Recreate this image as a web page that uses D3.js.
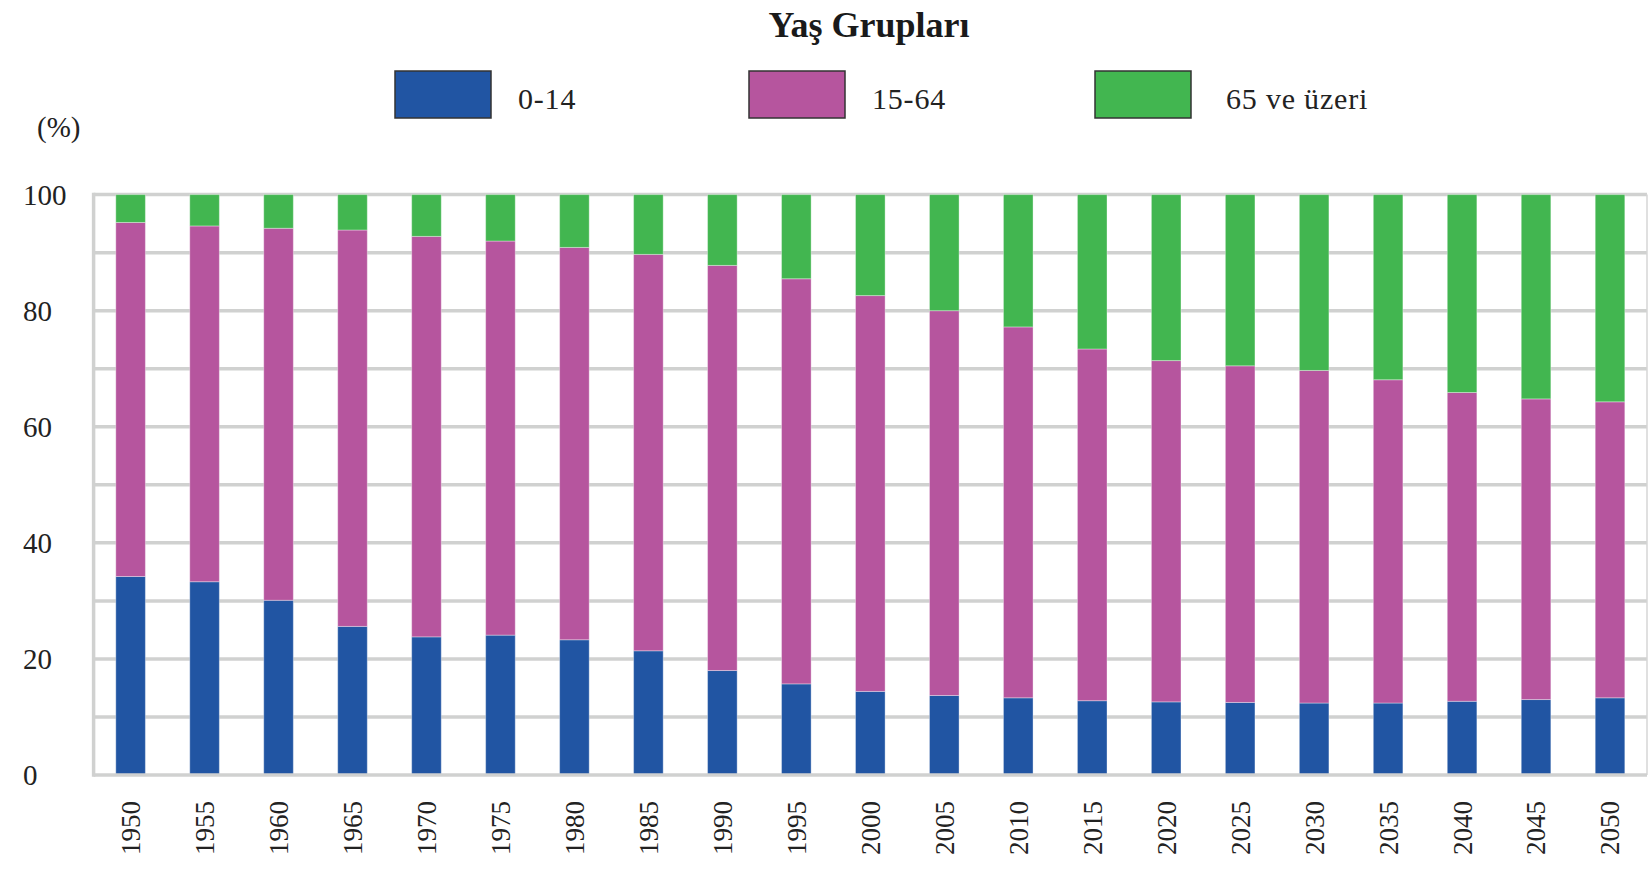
<!DOCTYPE html>
<html lang="tr">
<head>
<meta charset="utf-8">
<title>Yaş Grupları</title>
<script src="https://cdn.jsdelivr.net/npm/d3@7/dist/d3.min.js"></script>
<style>
    html, body { margin: 0; padding: 0; background: #fff; }
    svg { display: block; font-family: 'Liberation Serif', 'DejaVu Serif', serif; }
    .grid line { stroke: #d0d1d0; stroke-width: 3.5; }
    .tick-label { font-size: 29px; fill: #222; }
    .year-label { font-size: 27px; fill: #222; }
    .legend-label { font-size: 30px; fill: #222; letter-spacing: 0.8px; }
</style>
</head>
<body>
<div id="render-here"></div>
<script>
// values, % of population
const years = [1950, 1955, 1960, 1965, 1970, 1975, 1980, 1985, 1990, 1995, 2000,
               2005, 2010, 2015, 2020, 2025, 2030, 2035, 2040, 2045, 2050];
const ages0to14 = [34.2, 33.3, 30.1, 25.6, 23.8, 24.1, 23.3, 21.4, 18.0, 15.7, 14.4,
                   13.7, 13.3, 12.8, 12.6, 12.5, 12.4, 12.4, 12.7, 13.0, 13.3];
const ages15to64 = [61.0, 61.3, 64.1, 68.3, 69.0, 67.9, 67.6, 68.3, 69.8, 69.8, 68.2,
                    66.3, 63.9, 60.6, 58.8, 58.0, 57.3, 55.7, 53.2, 51.8, 51.0];
const ages65plus = [4.8, 5.4, 5.8, 6.1, 7.2, 8.0, 9.1, 10.3, 12.2, 14.5, 17.4,
                    20.0, 22.8, 26.6, 28.6, 29.5, 30.3, 31.9, 34.1, 35.2, 35.7];
const groupKeys = ['0-14', '15-64', '65 ve üzeri'];
const groupColors = ['#2155a3', '#b6559e', '#42b650'];
const yTicks = [0, 20, 40, 60, 80, 100];
const gridValues = [10, 20, 30, 40, 50, 60, 70, 80, 90, 100];

const W = 1649, H = 875;
const margin = { top: 194.6, right: 2, bottom: 100, left: 93.6 };

const rows = years.map((year, i) => ({
    year: year,
    '0-14': ages0to14[i],
    '15-64': ages15to64[i],
    '65 ve üzeri': ages65plus[i]
}));

const series = d3.stack().keys(groupKeys)(rows);

const xScale = d3.scaleBand()
    .domain(years)
    .range([margin.left, W - margin.right])
    .paddingInner(0.6)
    .paddingOuter(0.3);
const yScale = d3.scaleLinear()
    .domain([0, 100])
    .range([H - margin.bottom, margin.top]);
const color = d3.scaleOrdinal().domain(groupKeys).range(groupColors);

const svg = d3.select('#render-here').append('svg')
    .attr('width', W)
    .attr('height', H)
    .attr('viewBox', `0 0 ${W} ${H}`);

// title
svg.append('text')
    .attr('x', 869)
    .attr('y', 37)
    .attr('text-anchor', 'middle')
    .style('font-size', '36px')
    .style('font-weight', 'bold')
    .style('fill', '#1a1a1a')
    .text('Yaş Grupları');

// legend
const legendX = [395, 749, 1095];
const legend = svg.append('g')
    .selectAll('g')
    .data(groupKeys)
    .enter().append('g')
        .attr('transform', (d, i) => `translate(${legendX[i]},71)`);

legend.append('rect')
    .attr('width', 96)
    .attr('height', 47)
    .attr('fill', d => color(d))
    .attr('stroke', '#333')
    .attr('stroke-width', 1.5);

legend.append('text')
    .attr('class', 'legend-label')
    .attr('x', (d, i) => i == 2 ? 131 : 123)
    .attr('y', 38)
    .text(d => d);

// unit label
svg.append('text')
    .attr('class', 'tick-label')
    .attr('x', 37)
    .attr('y', 137)
    .text('(%)');

// gridlines
svg.append('g')
    .attr('class', 'grid')
    .selectAll('line')
    .data(gridValues)
    .enter().append('line')
        .attr('x1', margin.left)
        .attr('x2', W - margin.right)
        .attr('y1', d => yScale(d))
        .attr('y2', d => yScale(d));

// right border, thin
svg.append('line')
    .attr('x1', W - margin.right)
    .attr('x2', W - margin.right)
    .attr('y1', yScale(100))
    .attr('y2', yScale(0))
    .attr('stroke', '#d6d6d6')
    .attr('stroke-width', 1.5);

// stacked bars
svg.append('g')
    .selectAll('g')
    .data(series)
    .enter().append('g')
        .attr('fill', d => color(d.key))
        .selectAll('rect')
        .data(d => d)
        .enter().append('rect')
            .attr('x', d => xScale(d.data.year))
            .attr('width', xScale.bandwidth())
            .attr('y', d => yScale(d[1]))
            .attr('height', d => yScale(d[0]) - yScale(d[1]))
            .attr('stroke', 'rgba(255,255,255,0.35)')
            .attr('stroke-width', 1);

// axes frame (left + bottom)
svg.append('line')
    .attr('x1', margin.left)
    .attr('x2', margin.left)
    .attr('y1', yScale(100) - 1.75)
    .attr('y2', yScale(0) + 1.75)
    .attr('stroke', '#d0d1d0')
    .attr('stroke-width', 3.5);
svg.append('line')
    .attr('x1', margin.left)
    .attr('x2', W - margin.right)
    .attr('y1', yScale(0))
    .attr('y2', yScale(0))
    .attr('stroke', '#d0d1d0')
    .attr('stroke-width', 3.5);

// y tick labels, left aligned
svg.append('g')
    .selectAll('text')
    .data(yTicks)
    .enter().append('text')
        .attr('class', 'tick-label')
        .attr('x', 23)
        .attr('y', d => yScale(d))
        .attr('dy', '0.35em')
        .text(d => d);

// year labels, rotated
svg.append('g')
    .selectAll('text')
    .data(years)
    .enter().append('text')
        .attr('class', 'year-label')
        .attr('transform', d => `translate(${xScale(d) + xScale.bandwidth() / 2},855) rotate(-90)`)
        .attr('dy', '0.35em')
        .text(d => d);
</script>
</body>
</html>
